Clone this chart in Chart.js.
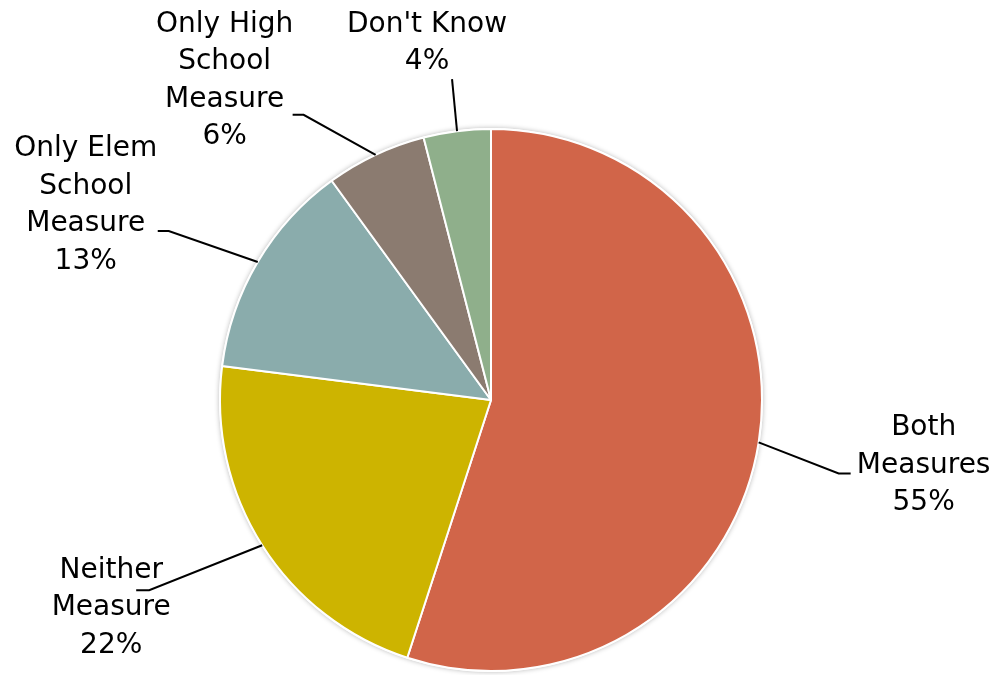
<!DOCTYPE html>
<html>
<head>
<meta charset="utf-8">
<title>Measures</title>
<script src="https://cdn.jsdelivr.net/npm/chart.js@4/dist/chart.umd.min.js"></script>
<style>
    html, body { margin: 0; padding: 0; background: #ffffff; }
    #wrap { width: 995px; height: 675px; position: relative; }
</style>
</head>
<body>
<div id="wrap"><canvas id="measuresChart"></canvas></div>
<script>
// Survey answers, clockwise from 12 o'clock
const categories = ['Both Measures', 'Neither Measure', 'Only Elem School Measure', 'Only High School Measure', "Don't Know"];
const shares = [55, 22, 13, 6, 4];
// Line breaks used for each label
const labelLines = [
    ['Both', 'Measures'],
    ['Neither', 'Measure'],
    ['Only Elem', 'School', 'Measure'],
    ['Only High', 'School', 'Measure'],
    ["Don't Know"]
];
const sliceColors = ['#D16549', '#CDB400', '#8AACAC', '#8B7B70', '#8FAF8B'];

// Label placement relative to the point where the leader touches the slice
const labelLayout = [
    { text: [165, 23], elbow: [80, 31], end: [92, 31] },
    { text: [-151, 63], elbow: [-113, 45], end: [-126, 45] },
    { text: [-172, -57], elbow: [-89, -31], end: [-100, -31] },
    { text: [-151, -74], elbow: [-72, -40], end: [-83, -40] },
    { text: [-30, -88], elbow: null, end: [-5, -52] }
];

const FONT = '28px "DejaVu Sans", sans-serif';
const LINE_HEIGHT = 37.5;

// Soft shadow under the whole pie
const pieShadow = {
    id: 'pieShadow',
    beforeDatasetsDraw(chart) {
        const arc = chart.getDatasetMeta(0).data[0];
        if (!arc) return;
        const ctx = chart.ctx;
        ctx.save();
        ctx.shadowColor = 'rgba(0, 0, 0, 0.28)';
        ctx.shadowBlur = 5;
        ctx.fillStyle = '#ffffff';
        ctx.beginPath();
        ctx.arc(arc.x, arc.y, arc.outerRadius + 1, 0, Math.PI * 2);
        ctx.fill();
        ctx.restore();
    }
};

// Category name + percent with leader lines
const outsideLabels = {
    id: 'outsideLabels',
    afterDatasetsDraw(chart) {
        const ctx = chart.ctx;
        const meta = chart.getDatasetMeta(0);
        ctx.save();
        ctx.font = FONT;
        ctx.fillStyle = '#000000';
        ctx.textAlign = 'center';
        ctx.textBaseline = 'middle';
        ctx.strokeStyle = '#000000';
        ctx.lineWidth = 2;

        meta.data.forEach((arc, i) => {
            const mid = (arc.startAngle + arc.endAngle) / 2;
            const ax = arc.x + Math.cos(mid) * arc.outerRadius;
            const ay = arc.y + Math.sin(mid) * arc.outerRadius;
            const layout = labelLayout[i];

            // leader line
            ctx.beginPath();
            ctx.moveTo(ax, ay);
            if (layout.elbow) {
                ctx.lineTo(ax + layout.elbow[0], ay + layout.elbow[1]);
            }
            ctx.lineTo(ax + layout.end[0], ay + layout.end[1]);
            ctx.stroke();

            // text block
            const lines = labelLines[i].concat([shares[i] + '%']);
            const cx = ax + layout.text[0];
            const cy = ay + layout.text[1];
            const top = cy - (lines.length - 1) * LINE_HEIGHT / 2;
            lines.forEach((line, k) => {
                ctx.fillText(line, cx, top + k * LINE_HEIGHT);
            });
        });
        ctx.restore();
    }
};

const chart = new Chart(document.getElementById('measuresChart'), {
    type: 'pie',
    data: {
        labels: categories,
        datasets: [{
            data: shares,
            backgroundColor: sliceColors,
            borderColor: '#ffffff',
            borderWidth: 2
        }]
    },
    options: {
        responsive: true,
        maintainAspectRatio: false,
        animation: false,
        layout: {
            padding: { left: 219, right: 232, top: 127, bottom: 2 }
        },
        plugins: {
            legend: { display: false },
            tooltip: { enabled: false }
        }
    },
    plugins: [pieShadow, outsideLabels]
});
</script>
</body>
</html>
